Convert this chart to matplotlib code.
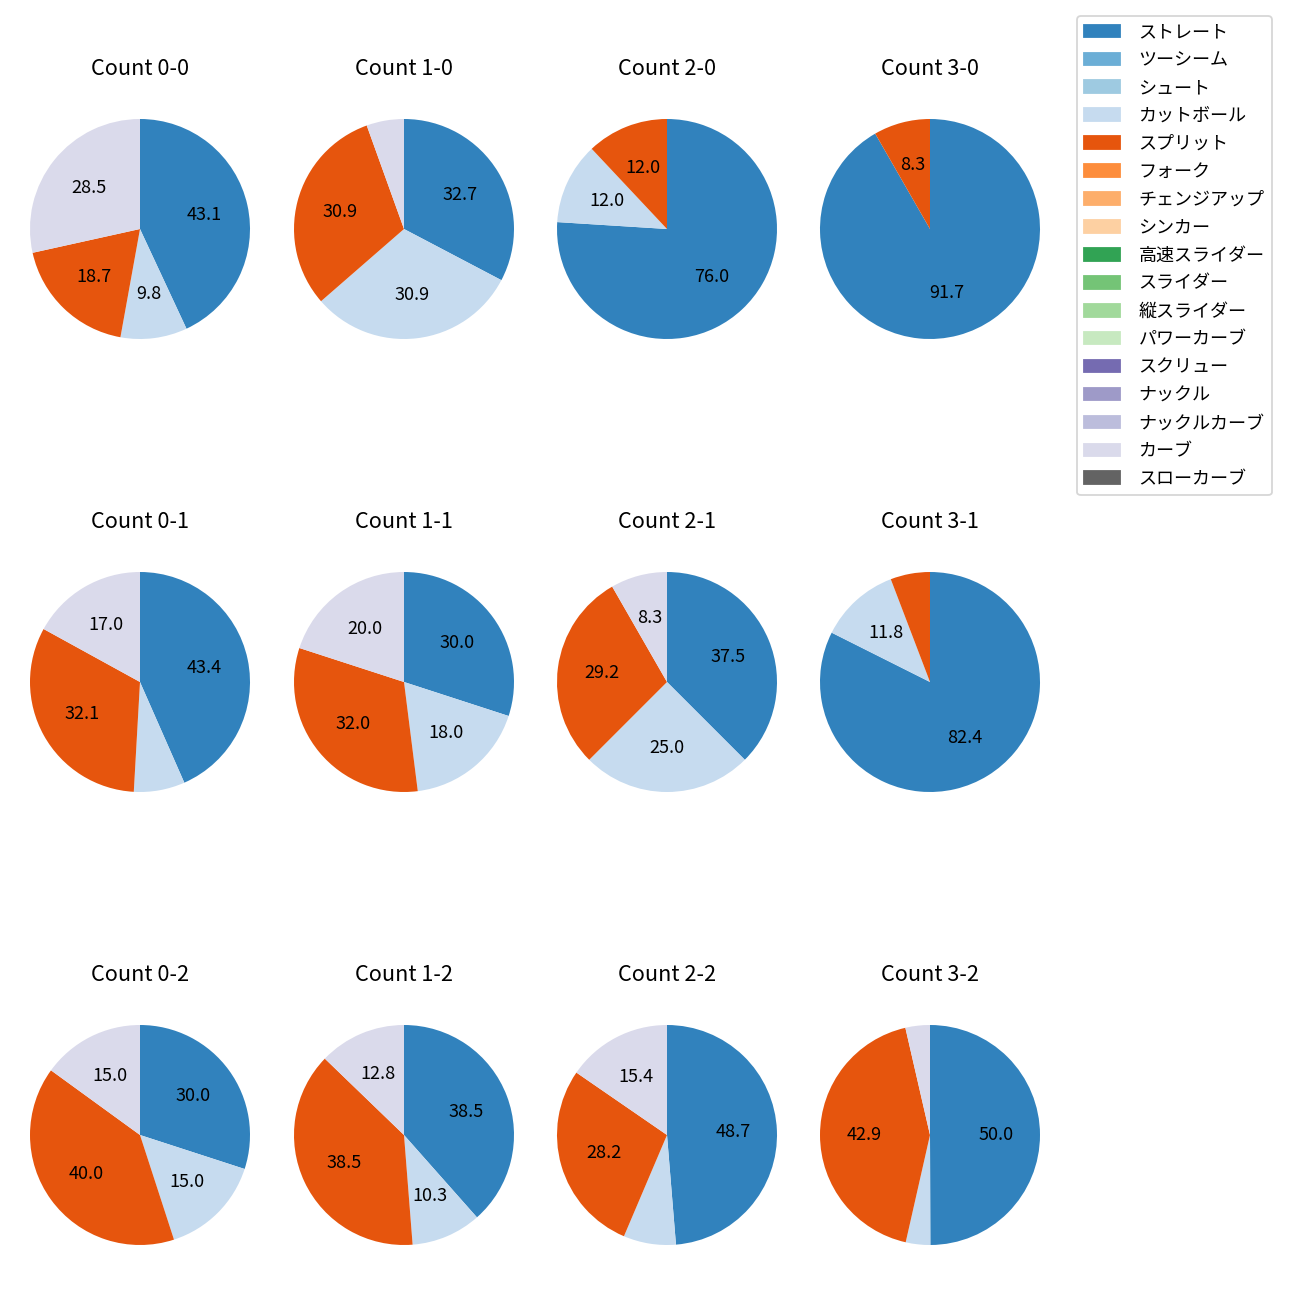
import matplotlib
matplotlib.use('Agg')
import matplotlib.pyplot as plt
from matplotlib.patches import Patch

plt.rcParams['font.family'] = ['Noto Sans CJK JP', 'DejaVu Sans']

pitch_types = ['ストレート', 'ツーシーム', 'シュート', 'カットボール', 'スプリット', 'フォーク',
               'チェンジアップ', 'シンカー', '高速スライダー', 'スライダー', '縦スライダー',
               'パワーカーブ', 'スクリュー', 'ナックル', 'ナックルカーブ', 'カーブ', 'スローカーブ']

counts = ['0-0', '1-0', '2-0', '3-0',
          '0-1', '1-1', '2-1', '3-1',
          '0-2', '1-2', '2-2', '3-2']

# share (%) of ストレート, カットボール, スプリット, カーブ per count
straight = [43.1, 32.7, 76.0, 91.7, 43.4, 30.0, 37.5, 82.4, 30.0, 38.5, 48.7, 50.0]
cutball = [9.8, 30.9, 12.0, 0.0, 7.5, 18.0, 25.0, 11.8, 15.0, 10.3, 7.7, 3.6]
split = [18.7, 30.9, 12.0, 8.3, 32.1, 32.0, 29.2, 5.8, 40.0, 38.5, 28.2, 42.9]
curve = [28.5, 5.5, 0.0, 0.0, 17.0, 20.0, 8.3, 0.0, 15.0, 12.8, 15.4, 3.6]

colors = [plt.get_cmap('tab20c')(i) for i in range(len(pitch_types))]

fig = plt.figure(figsize=(10, 10), dpi=130)

cx = [140, 404, 667, 930]
cy = [229, 682, 1135]
side = 275

for i, cnt in enumerate(counts):
    r, c = divmod(i, 4)
    ax = fig.add_axes([(cx[c] - side / 2) / 1300, 1 - (cy[r] + side / 2) / 1300,
                       side / 1300, side / 1300])
    vals = [0.0] * len(pitch_types)
    vals[pitch_types.index('ストレート')] = straight[i]
    vals[pitch_types.index('カットボール')] = cutball[i]
    vals[pitch_types.index('スプリット')] = split[i]
    vals[pitch_types.index('カーブ')] = curve[i]
    ax.pie(vals, colors=colors, startangle=90, counterclock=False,
           autopct=lambda p: f'{p:.1f}' if p >= 8 else '')
    ax.set_title(f'Count {cnt}', fontsize=12, pad=9)

handles = [Patch(color=col) for col in colors]
fig.legend(handles, pitch_types, loc='upper left', fontsize=10, labelspacing=0.55,
           handletextpad=1.0, bbox_to_anchor=(1077 / 1300, 1 - 16 / 1300), borderaxespad=0)

fig.savefig('out.png', dpi=130)
